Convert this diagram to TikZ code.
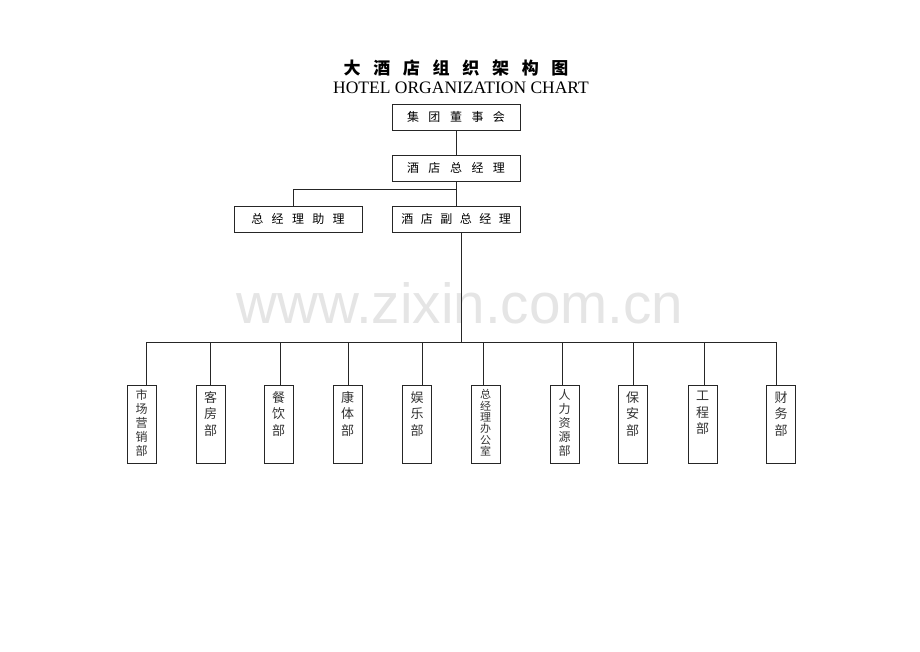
\documentclass[tikz,border=0pt]{standalone}
\usepackage{fontspec}
\setmainfont{Liberation Serif}
\newfontfamily\cjk{Noto Sans CJK SC}
\newfontfamily\wmfont{Liberation Sans}
\tikzset{
  topbox/.style={draw=black!85, line width=0.9pt, inner sep=0pt, minimum width=128pt, minimum height=26pt, font=\cjk\fontsize{12}{12}\selectfont},
  deptbox/.style={draw=black!85, line width=0.9pt, inner sep=0pt, minimum width=29pt, minimum height=78pt},
  dtext/.style={anchor=north, inner sep=0pt, align=center, text=black!80},
  dthree/.style={dtext, font=\cjk\fontsize{13}{16.5}\selectfont, yshift=-6.5pt},
  dfive/.style={dtext, font=\cjk\fontsize{12}{14}\selectfont, yshift=-5pt},
  dsix/.style={dtext, font=\cjk\fontsize{11}{11.3}\selectfont, yshift=-5pt},
  link/.style={draw=black!85, line width=0.9pt},
}
\begin{document}
\begin{tikzpicture}[x=1pt,y=-1pt]
\path[use as bounding box, fill=white] (0,0) rectangle (920,651);

% watermark
\node[anchor=base, inner sep=0pt, text=black!10, font=\wmfont\fontsize{56.6}{60}\selectfont] (wm) at (460,323) {www.zixin.com.cn};

% title
\node[inner sep=0pt, font=\cjk\bfseries\fontsize{17}{17}\selectfont] (title) at (456,68)
  {大\kern12.7pt 酒\kern12.7pt 店\kern12.7pt 组\kern12.7pt 织\kern12.7pt 架\kern12.7pt 构\kern12.7pt 图};
\node[anchor=base, inner sep=0pt, font=\fontsize{17.5}{17.5}\selectfont] (sub) at (461,93) {HOTEL ORGANIZATION CHART};

% upper boxes
\node[topbox] (b1) at (456,117) {集\kern9.5pt 团\kern9.5pt 董\kern9.5pt 事\kern9.5pt 会};
\node[topbox] (b2) at (456,168) {酒\kern9.5pt 店\kern9.5pt 总\kern9.5pt 经\kern9.5pt 理};
\node[topbox] (b3) at (456,219) {酒\kern7.5pt 店\kern7.5pt 副\kern7.5pt 总\kern7.5pt 经\kern7.5pt 理};
\node[topbox] (b4) at (298,219) {总\kern8.3pt 经\kern8.3pt 理\kern8.3pt 助\kern8.3pt 理};

% departments
\node[deptbox] (d1) at (141.5,424) {};
\node[deptbox] (d2) at (210.5,424) {};
\node[deptbox] (d3) at (278.5,424) {};
\node[deptbox] (d4) at (347.5,424) {};
\node[deptbox] (d5) at (417,424) {};
\node[deptbox] (d6) at (485.5,424) {};
\node[deptbox] (d7) at (564.5,424) {};
\node[deptbox] (d8) at (632.5,424) {};
\node[deptbox] (d9) at (702.5,424) {};
\node[deptbox] (d10) at (781,424) {};

\node[dfive] (l1) at (d1.north) {市\\场\\营\\销\\部};
\node[dthree] (l2) at (d2.north) {客\\房\\部};
\node[dthree] (l3) at (d3.north) {餐\\饮\\部};
\node[dthree] (l4) at (d4.north) {康\\体\\部};
\node[dthree] (l5) at (d5.north) {娱\\乐\\部};
\node[dsix] (l6) at (d6.north) {总\\经\\理\\办\\公\\室};
\node[dfive] (l7) at (d7.north) {人\\力\\资\\源\\部};
\node[dthree] (l8) at (d8.north) {保\\安\\部};
\node[dthree] (l9) at (d9.north) {工\\程\\部};
\node[dthree] (l10) at (d10.north) {财\\务\\部};

% connectors
\draw[link] (b1.south) -- (b2.north);
\draw[link] (b2.south) -- (b3.north);
\coordinate (j) at (456,189);
\coordinate (a4) at (293,189);
\draw[link] (j) -- (a4) -- (a4 |- b4.north);

\coordinate (vb) at (461,342);
\draw[link] (b3.south -| vb) -- (vb);

\coordinate (t1) at (146,342);
\coordinate (t2) at (210,342);
\coordinate (t3) at (280,342);
\coordinate (t4) at (348,342);
\coordinate (t5) at (422,342);
\coordinate (t6) at (483,342);
\coordinate (t7) at (562,342);
\coordinate (t8) at (633,342);
\coordinate (t9) at (704,342);
\coordinate (t10) at (776,342);
\draw[link] (t1) -- (t10);
\foreach \i in {1,...,10}{
  \draw[link] (t\i) -- (t\i |- d\i.north);
}
\end{tikzpicture}
\end{document}
